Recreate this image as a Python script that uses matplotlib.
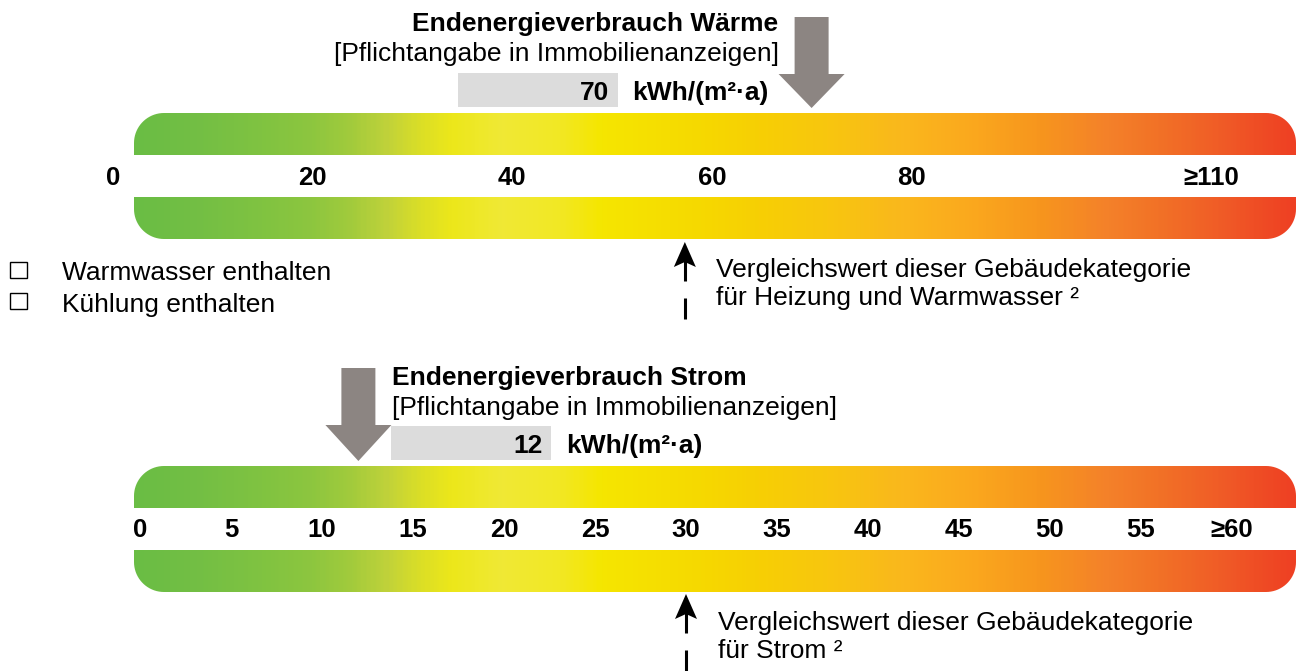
import numpy as np
import matplotlib
matplotlib.use("Agg")
import matplotlib.pyplot as plt
from matplotlib.colors import LinearSegmentedColormap
from matplotlib.path import Path
from matplotlib.patches import PathPatch, Polygon, Rectangle

plt.rcParams["font.family"] = ["Liberation Sans", "DejaVu Sans"]

# data
waerme_ticks = [0, 20, 40, 60, 80, 110]
waerme_tick_labels = ["0", "20", "40", "60", "80", "≥110"]
waerme_value = 70
waerme_reference = 57.3

strom_ticks = [0, 5, 10, 15, 20, 25, 30, 35, 40, 45, 50, 55, 60]
strom_tick_labels = ["0", "5", "10", "15", "20", "25", "30", "35", "40", "45", "50", "55", "≥60"]
strom_value = 12
strom_reference = 30

W, H = 1296, 671
fig = plt.figure(figsize=(W / 100, H / 100), dpi=100)

# layout axes in pixels
ax = fig.add_axes([0, 0, 1, 1])
ax.set_xlim(0, W)
ax.set_ylim(H, 0)
ax.axis("off")


def scale_axes(zero_px, px_per_unit):
    a = fig.add_axes([0, 0, 1, 1])
    a.set_xlim(-zero_px / px_per_unit, (W - zero_px) / px_per_unit)
    a.set_ylim(H, 0)
    a.axis("off")
    a.patch.set_alpha(0)
    return a


ax_w = scale_axes(113, 9.98)
ax_s = scale_axes(140, 18.2)


def to_px(scale_ax, v):
    d = scale_ax.transData.transform((v, 0))
    return ax.transData.inverted().transform(d)[0]


# gradient (pixel stops along the bar)
stops = [
    (134, "#6abd45"), (200, "#74bf44"), (260, "#80c341"), (310, "#8dc63f"),
    (350, "#a2cb3c"), (385, "#c0d23a"), (420, "#dcdf26"), (450, "#ece71a"),
    (500, "#f0e935"), (560, "#f2e824"), (600, "#f5e600"), (700, "#f6d900"),
    (760, "#f7cf04"), (830, "#f8c60f"), (900, "#fab81c"), (970, "#fba91e"),
    (1040, "#f7961d"), (1110, "#f4812a"), (1160, "#f27226"), (1220, "#f05d27"),
    (1296, "#ee4023"),
]
x0, x1 = 134, 1296
cmap = LinearSegmentedColormap.from_list(
    "energy", [((p - x0) / (x1 - x0), c) for p, c in stops])
grad = np.linspace(0, 1, 600).reshape(1, -1)


def rounded_bar(ytop, ybot, round_top, r=30):
    t = np.linspace(0, np.pi / 2, 20)
    if round_top:
        left = [(x0 + r - r * np.cos(a), ytop + r - r * np.sin(a)) for a in t]
        right = [(x1 - r + r * np.sin(a), ytop + r - r * np.cos(a)) for a in t]
        verts = [(x0, ybot)] + left + right + [(x1, ybot), (x0, ybot)]
    else:
        right = [(x1 - r + r * np.cos(a), ybot - r + r * np.sin(a)) for a in t]
        left = [(x0 + r - r * np.sin(a), ybot - r + r * np.cos(a)) for a in t]
        verts = [(x0, ytop), (x1, ytop)] + right + left + [(x0, ytop)]
    patch = PathPatch(Path(verts), facecolor="none", edgecolor="none",
                      transform=ax.transData)
    ax.add_patch(patch)
    im = ax.imshow(grad, cmap=cmap, aspect="auto", extent=(x0, x1, ybot, ytop),
                   interpolation="bilinear", zorder=1)
    im.set_clip_path(patch)


def big_arrow(xc, ytop, yhead, ytip):
    pts = [(xc - 17, ytop), (xc + 17, ytop), (xc + 17, yhead), (xc + 33, yhead),
           (xc, ytip), (xc - 33, yhead), (xc - 17, yhead)]
    ax.add_patch(Polygon(pts, closed=True, facecolor="#8c8582",
                         edgecolor="none", zorder=3))


def ref_arrow(xc, ytip):
    head = [(xc, ytip), (xc + 11, ytip + 25), (xc, ytip + 20), (xc - 11, ytip + 25)]
    ax.add_patch(Polygon(head, closed=True, facecolor="black",
                         edgecolor="none", zorder=3))
    ax.plot([xc, xc], [ytip + 19, ytip + 39], color="black", lw=2.2,
            solid_capstyle="butt")
    ax.plot([xc, xc], [ytip + 56, ytip + 77], color="black", lw=2.2,
            solid_capstyle="butt")


fs = 19
tick_fs = 18.5

# ---- Wärme block ----
rounded_bar(113, 155, True)
rounded_bar(197, 239, False)
for v, lab in zip(waerme_ticks, waerme_tick_labels):
    ax_w.text(v, 185, lab, ha="center", va="baseline", fontsize=tick_fs,
              fontweight="bold")

ax.text(778, 31, "Endenergieverbrauch Wärme", ha="right", va="baseline",
        fontsize=fs, fontweight="bold")
ax.text(779, 61, "[Pflichtangabe in Immobilienanzeigen]", ha="right",
        va="baseline", fontsize=fs)
ax.add_patch(Rectangle((458, 73), 160, 34, facecolor="#dcdcdc", edgecolor="none"))
ax.text(609, 100, str(waerme_value), ha="right", va="baseline", fontsize=fs,
        fontweight="bold")
ax.text(632, 100, "kWh/(m²·a)", ha="left", va="baseline", fontsize=fs,
        fontweight="bold")
big_arrow(to_px(ax_w, waerme_value), 17, 74, 108)

ref_arrow(to_px(ax_w, waerme_reference), 242)
ax.text(716, 277, "Vergleichswert dieser Gebäudekategorie", ha="left",
        va="baseline", fontsize=fs)
ax.text(716, 305, "für Heizung und Warmwasser ²", ha="left", va="baseline",
        fontsize=fs)

ax.add_patch(Rectangle((10, 262), 17, 16, facecolor="none", edgecolor="black", lw=1))
ax.add_patch(Rectangle((10, 293), 17, 16, facecolor="none", edgecolor="black", lw=1))
ax.text(62, 280, "Warmwasser enthalten", ha="left", va="baseline", fontsize=fs)
ax.text(62, 312, "Kühlung enthalten", ha="left", va="baseline", fontsize=fs)

# ---- Strom block ----
rounded_bar(466, 508, True)
rounded_bar(550, 592, False)
for v, lab in zip(strom_ticks, strom_tick_labels):
    ax_s.text(v, 537, lab, ha="center", va="baseline", fontsize=tick_fs,
              fontweight="bold")

ax.text(392, 385, "Endenergieverbrauch Strom", ha="left", va="baseline",
        fontsize=fs, fontweight="bold")
ax.text(392, 415, "[Pflichtangabe in Immobilienanzeigen]", ha="left",
        va="baseline", fontsize=fs)
ax.add_patch(Rectangle((391, 426), 160, 34, facecolor="#dcdcdc", edgecolor="none"))
ax.text(543, 453, str(strom_value), ha="right", va="baseline", fontsize=fs,
        fontweight="bold")
ax.text(566, 453, "kWh/(m²·a)", ha="left", va="baseline", fontsize=fs,
        fontweight="bold")
big_arrow(to_px(ax_s, strom_value), 368, 425, 461)

ref_arrow(to_px(ax_s, strom_reference), 594)
ax.text(718, 630, "Vergleichswert dieser Gebäudekategorie", ha="left",
        va="baseline", fontsize=fs)
ax.text(718, 658, "für Strom ²", ha="left", va="baseline", fontsize=fs)

ax.set_xlim(0, W)
ax.set_ylim(H, 0)

fig.savefig("out.png", dpi=100)
